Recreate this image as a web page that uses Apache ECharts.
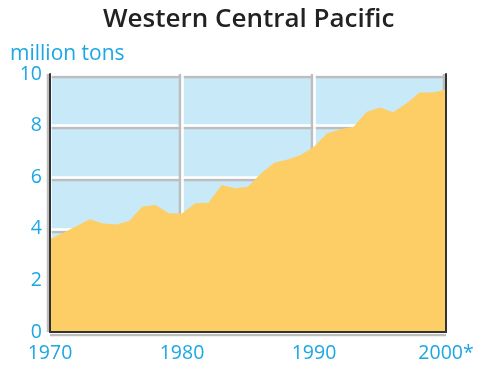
<!DOCTYPE html>
<html>
<head>
<meta charset="utf-8">
<script src="https://cdn.jsdelivr.net/npm/echarts@6/dist/echarts.min.js"></script>
<style>html,body{margin:0;padding:0;background:#fff;}#c{width:479px;height:366px;}</style>
</head>
<body>
<div id="c"></div>
<script>
var years = [1970,1971,1972,1973,1974,1975,1976,1977,1978,1979,1980,1981,1982,1983,1984,1985,1986,1987,1988,1989,1990,1991,1992,1993,1994,1995,1996,1997,1998,1999,2000];
var catch_mt = [3.6,3.85,4.1,4.37,4.21,4.17,4.3,4.86,4.92,4.6,4.59,4.99,5.01,5.7,5.57,5.63,6.15,6.56,6.69,6.86,7.18,7.7,7.86,7.96,8.54,8.7,8.52,8.86,9.28,9.28,9.4];
var yTicks = [0,2,4,6,8,10];
var xTicks = [1970,1980,1990,2000];
var xTickLabels = ['1970','1980','1990','2000*'];

var cyan = '#1AA7E4';
var font = 'Open Sans';
var chart = echarts.init(document.getElementById('c'), null, {renderer:'canvas'});
var data = years.map(function(y,i){return [y, catch_mt[i]];});
var frameLine = {show:true, lineStyle:{color:'#333', width:2}};
chart.setOption({
  animation:false,
  title:{text:'Western Central Pacific', left:103, top:7, padding:0,
    textStyle:{fontFamily:font, fontWeight:600, fontSize:26, color:'#222'}},
  grid:{left:50, right:33, top:74, bottom:34, show:true, backgroundColor:'#C8E9F8', borderWidth:0},
  xAxis:[{
    type:'value', min:xTicks[0], max:xTicks[xTicks.length-1], interval:10,
    axisLine:{show:false}, axisTick:{show:false},
    axisLabel:{color:cyan, fontFamily:font, fontSize:19.5, margin:11,
      formatter:function(v){var i=xTicks.indexOf(v);return i>=0?xTickLabels[i]:'';}},
    splitLine:{show:true, lineStyle:{color:'#fff', width:2.5, shadowColor:'#bdbdbd', shadowOffsetX:-2.5, shadowBlur:0}}
  },{
    type:'value', position:'top', min:1970, max:2000, z:10,
    axisLine:frameLine, axisTick:{show:false}, axisLabel:{show:false}, splitLine:{show:false}
  },{
    type:'value', position:'bottom', min:1970, max:2000, z:10,
    axisLine:frameLine, axisTick:{show:false}, axisLabel:{show:false}, splitLine:{show:false}
  }],
  yAxis:[{
    type:'value', min:yTicks[0], max:yTicks[yTicks.length-1], interval:2,
    name:'million tons', nameLocation:'end', nameGap:9,
    nameTextStyle:{color:cyan, fontFamily:font, fontSize:21, align:'left', padding:[0,0,0,-40]},
    axisLine:{show:false}, axisTick:{show:false},
    axisLabel:{color:cyan, fontFamily:font, fontSize:19.5, margin:8},
    splitLine:{show:true, lineStyle:{color:'#fff', width:2.5, shadowColor:'#bdbdbd', shadowOffsetY:2.5, shadowBlur:0}}
  },{
    type:'value', position:'right', min:0, max:10, z:10,
    axisLine:frameLine, axisTick:{show:false}, axisLabel:{show:false}, splitLine:{show:false}
  },{
    type:'value', position:'left', min:0, max:10, z:10,
    axisLine:frameLine, axisTick:{show:false}, axisLabel:{show:false}, splitLine:{show:false}
  }],
  series:[{
    type:'line', data:data, symbol:'none', z:5,
    lineStyle:{width:0, color:'#FDCD66'},
    areaStyle:{color:'#FDCD66', opacity:1}
  }]
});
</script>
</body>
</html>
